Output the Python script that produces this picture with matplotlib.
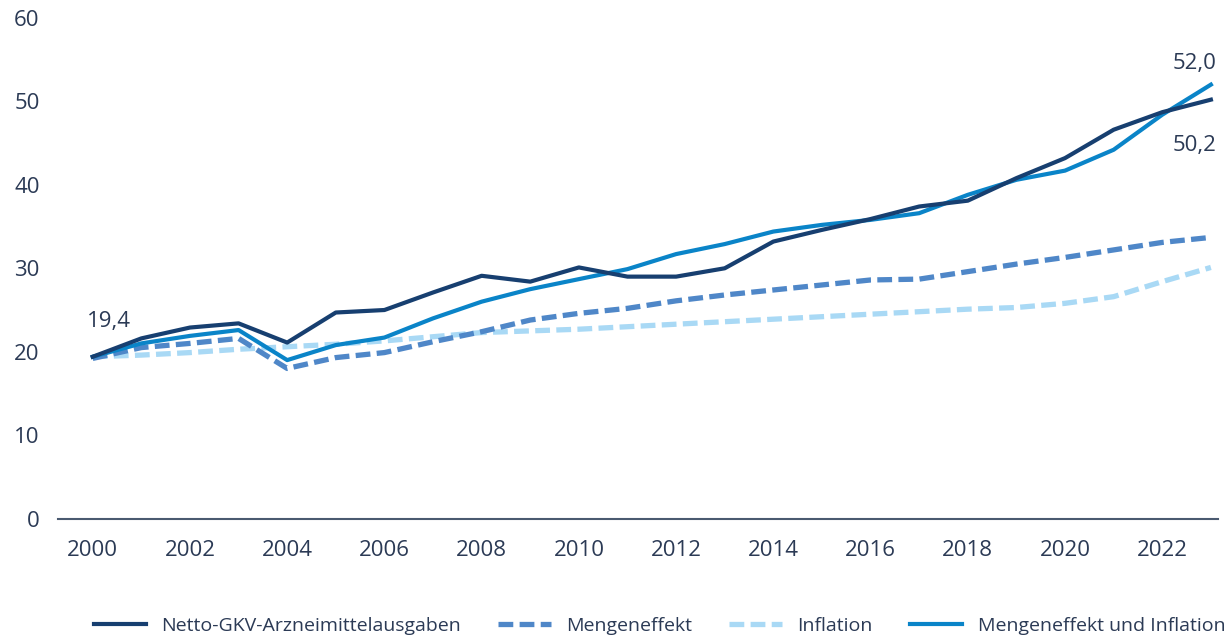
import matplotlib.pyplot as plt

plt.rcParams['font.family'] = ['Open Sans', 'DejaVu Sans']

years = list(range(2000, 2024))

netto = [19.4, 21.6, 22.9, 23.4, 21.1, 24.7, 25.0, 27.1, 29.1, 28.4, 30.1, 29.0,
         29.0, 30.0, 33.2, 34.6, 35.9, 37.4, 38.1, 40.8, 43.2, 46.6, 48.7, 50.2]
menge_infl = [19.4, 21.0, 21.9, 22.6, 19.0, 20.8, 21.7, 24.0, 26.0, 27.5, 28.7, 29.9,
              31.7, 32.9, 34.4, 35.2, 35.8, 36.6, 38.8, 40.6, 41.7, 44.2, 48.4, 52.0]
menge = [19.2, 20.5, 21.0, 21.6, 18.0, 19.3, 19.9, 21.2, 22.4, 23.8, 24.6, 25.2,
         26.1, 26.8, 27.4, 28.0, 28.6, 28.7, 29.6, 30.5, 31.3, 32.2, 33.1, 33.7]
inflation = [19.4, 19.6, 19.9, 20.3, 20.6, 20.9, 21.3, 21.8, 22.3, 22.5, 22.7, 23.0,
             23.3, 23.6, 23.9, 24.2, 24.5, 24.8, 25.1, 25.3, 25.8, 26.6, 28.4, 30.1]

labels = ['Netto-GKV-Arzneimittelausgaben', 'Mengeneffekt', 'Inflation',
          'Mengeneffekt und Inflation']
text_col = '#2b3a55'

fig = plt.figure(figsize=(12.28, 6.38), dpi=100)
ax = fig.add_axes([0.047, 0.187, 0.945, 0.785])

ax.plot(years, inflation, color='#a9d9f5', lw=3.8, ls=(0, (2.8, 1.2)), label=labels[2], zorder=2)
ax.plot(years, menge, color='#4f87c8', lw=3.8, ls=(0, (2.8, 1.2)), label=labels[1], zorder=3)
ax.plot(years, menge_infl, color='#0a84c8', lw=3, label=labels[3], zorder=4)
ax.plot(years, netto, color='#173f70', lw=3, label=labels[0], zorder=5)

ax.text(1999.88, 23.0, '19,4', fontsize=16, color=text_col, ha='left', va='baseline')
ax.text(2023.12, 53.9, '52,0', fontsize=16, color=text_col, ha='right', va='baseline')
ax.text(2023.12, 44.1, '50,2', fontsize=16, color=text_col, ha='right', va='baseline')

ax.set_xlim(1999.28, 2023.15)
ax.set_ylim(0, 60)
ax.set_xticks(range(2000, 2023, 2))
ax.set_yticks(range(0, 61, 10))
ax.tick_params(length=0, labelsize=16, labelcolor=text_col)
ax.tick_params(axis='x', pad=15)
ax.tick_params(axis='y', pad=13)
for s in ['top', 'right', 'left']:
    ax.spines[s].set_visible(False)
ax.spines['bottom'].set_color('#4a5a70')
ax.spines['bottom'].set_linewidth(1.5)

h, l = ax.get_legend_handles_labels()
hd = dict(zip(l, h))
fig.legend([hd[x] for x in labels], labels, loc='lower center', ncol=4, frameon=False,
           bbox_to_anchor=(0.537, -0.022), fontsize=14, labelcolor=text_col,
           handlelength=2.7, columnspacing=1.9, handletextpad=0.8)

fig.savefig('out.png', dpi=100)
